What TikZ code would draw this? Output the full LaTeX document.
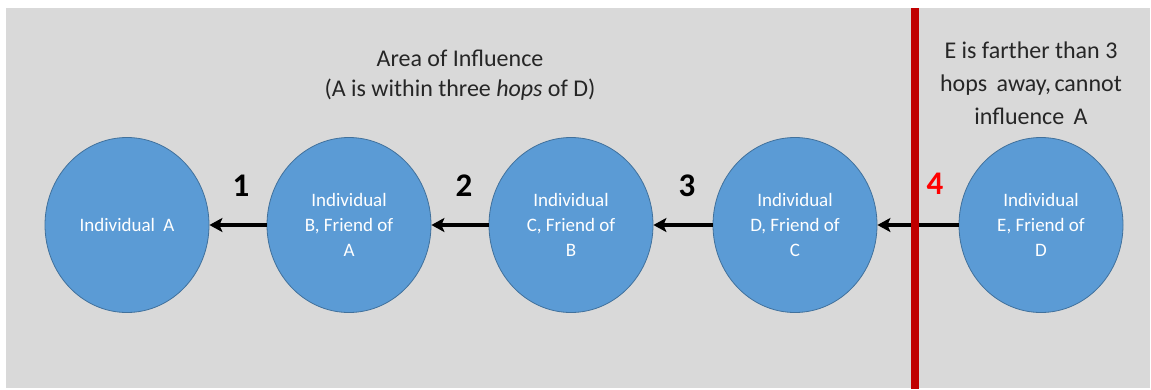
\documentclass[tikz,border=0pt]{standalone}
\usepackage{fontspec}
\setmainfont{Carlito}
\usepackage{tikz}
\usetikzlibrary{shapes.geometric}
\usetikzlibrary{arrows.meta}

\definecolor{bgGray}{HTML}{D9D9D9}
\definecolor{nodeBlue}{HTML}{5B9BD5}
\definecolor{nodeEdge}{HTML}{41719C}
\definecolor{wallRed}{HTML}{C00000}

\tikzset{
  person/.style={ellipse, fill=nodeBlue, draw=nodeEdge, line width=0.8pt,
    minimum width=164pt, minimum height=175pt, inner sep=0pt,
    text=white, align=center, font=\fontsize{19}{25}\selectfont},
  hop/.style={line width=4.5pt, -{Stealth[length=13pt,width=14pt,inset=3pt]}},
  hopnum/.style={font=\fontsize{33}{33}\selectfont\bfseries},
  caption/.style={align=center, text=black!85, font=\fontsize{24}{30}\selectfont}
}

\begin{document}
\begin{tikzpicture}[x=1pt,y=-1pt]
\useasboundingbox (0,0) rectangle (1151,389);
\fill[bgGray] (6,8) rectangle (1150,388);

% the five people
\node[person] (indA) at (127,225) {Individual\hspace{4pt} A};
\node[person] (indB) at (349,225) {Individual\\B, Friend of\\A};
\node[person] (indC) at (571,225) {Individual\\C, Friend of\\B};
\node[person] (indD) at (795,225) {Individual\\D, Friend of\\C};
\node[person] (indE) at (1041,225) {Individual\\E, Friend of\\D};

% hops
\draw[hop] (indB) -- (indA);
\draw[hop] (indC) -- (indB);
\draw[hop] (indD) -- (indC);
\draw[hop] (indE) -- (indD);

% limit of influence
\draw[wallRed, line width=8pt] (915,8) -- (915,389);

\node[hopnum] (numA) at (241,186) {1};
\node[hopnum] (numB) at (464,186) {2};
\node[hopnum] (numC) at (687,186) {3};
\node[hopnum, text=red] (numD) at (935,184) {4};

\node[caption] (areaText) at (460,75) {Area of Influence\\(A is within three \textit{hops} of D)};
\node[caption, font=\fontsize{24}{33}\selectfont] (farText) at (1031,83) {E is farther than 3\\hops\hspace{4pt} away,\hspace{-2pt} cannot\\influence\hspace{4pt} A};

\end{tikzpicture}
\end{document}
